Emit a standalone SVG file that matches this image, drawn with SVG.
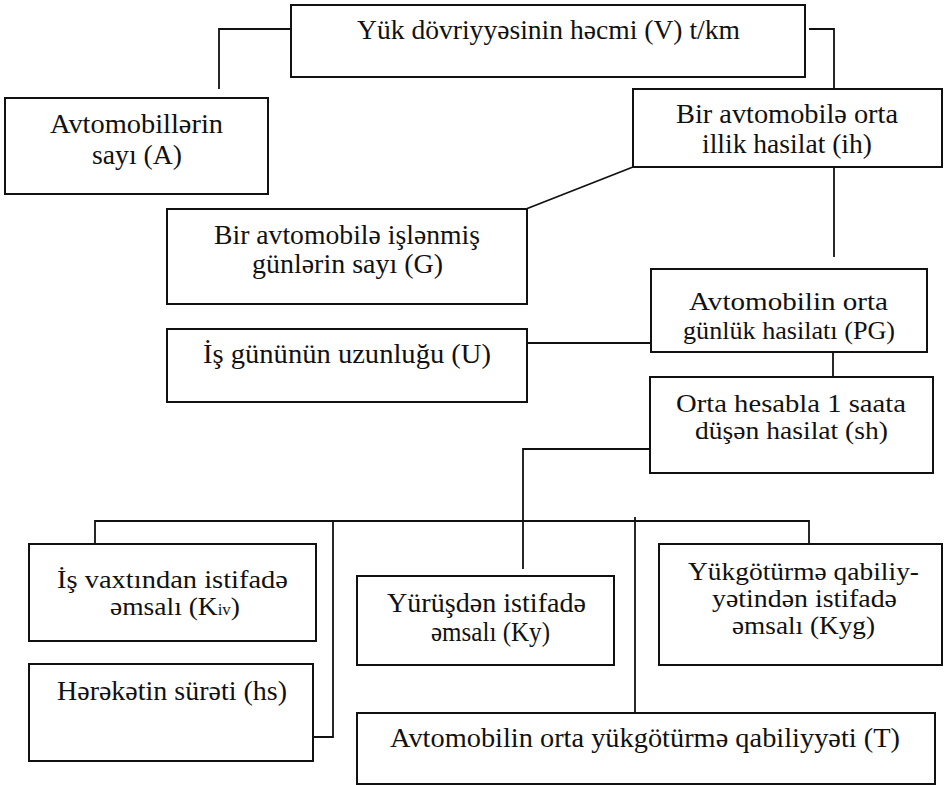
<svg xmlns="http://www.w3.org/2000/svg" width="944" height="785" viewBox="0 0 944 785">
<style>
.box{fill:#fff;stroke:#111;stroke-width:2}
.t{font-family:"Liberation Serif","DejaVu Serif",serif;font-size:28px;fill:#111;text-anchor:middle}
.s{font-size:26px}
.xs{font-size:25px}
.c{fill:none;stroke:#111;stroke-width:1.8}
.sub{font-size:16px}
</style>
<rect width="944" height="785" fill="#fff"/>
<g id="connectors">
<polyline class="c" points="291,29 219,29 219,89"/>
<polyline class="c" points="809,29 834,29 834,89"/>
<line class="c" x1="633" y1="167" x2="526" y2="209"/>
<line class="c" x1="834" y1="166" x2="834" y2="257"/>
<line class="c" x1="523" y1="343" x2="651" y2="343"/>
<line class="c" x1="833" y1="352" x2="833" y2="377"/>
<polyline class="c" points="650,449 523,449 523,569"/>
<polyline class="c" points="95,543 95,521 809,521 809,544"/>
<polyline class="c" points="333,521 333,737 310,737"/>
<line class="c" x1="635" y1="517" x2="635" y2="712"/>
</g>
<g id="n-volume">
<rect class="box" x="291" y="5" width="514" height="72"/>
<text class="t" x="548.5" y="39" textLength="383" lengthAdjust="spacingAndGlyphs">Yük dövriyyəsinin həcmi (V) t/km</text>
</g>
<g id="n-count">
<rect class="box" x="5" y="98" width="263" height="96"/>
<text class="t" x="136.5" y="133" textLength="173" lengthAdjust="spacingAndGlyphs">Avtomobillərin</text>
<text class="t" x="137" y="164" textLength="90" lengthAdjust="spacingAndGlyphs">sayı (A)</text>
</g>
<g id="n-annual">
<rect class="box" x="633" y="89" width="309" height="78"/>
<text class="t" x="787" y="123" textLength="222" lengthAdjust="spacingAndGlyphs">Bir avtomobilə orta</text>
<text class="t" x="787" y="153" textLength="170" lengthAdjust="spacingAndGlyphs">illik hasilat (ih)</text>
</g>
<g id="n-days">
<rect class="box" x="167" y="209" width="360" height="95"/>
<text class="t" x="347" y="244" textLength="266" lengthAdjust="spacingAndGlyphs">Bir avtomobilə işlənmiş</text>
<text class="t" x="347.5" y="273" textLength="191" lengthAdjust="spacingAndGlyphs">günlərin sayı (G)</text>
</g>
<g id="n-hours">
<rect class="box" x="167" y="329" width="360" height="73"/>
<text class="t" x="347" y="363" textLength="288" lengthAdjust="spacingAndGlyphs">İş gününün uzunluğu (U)</text>
</g>
<g id="n-daily">
<rect class="box" x="651" y="269" width="276" height="83"/>
<text class="t xs" x="788.5" y="310" textLength="199" lengthAdjust="spacingAndGlyphs">Avtomobilin orta</text>
<text class="t xs" x="789" y="339" textLength="212" lengthAdjust="spacingAndGlyphs">günlük hasilatı (PG)</text>
</g>
<g id="n-hourly">
<rect class="box" x="650" y="377" width="283" height="96"/>
<text class="t s" x="791" y="412" textLength="230" lengthAdjust="spacingAndGlyphs">Orta hesabla 1 saata</text>
<text class="t s" x="791.5" y="439" textLength="193" lengthAdjust="spacingAndGlyphs">düşən hasilat (sh)</text>
</g>
<g id="n-kiv">
<rect class="box" x="29" y="544" width="287" height="97"/>
<text class="t s" x="172.5" y="588" textLength="231" lengthAdjust="spacingAndGlyphs">İş vaxtından istifadə</text>
<text class="t s" x="175" y="615" textLength="130" lengthAdjust="spacingAndGlyphs">əmsalı (K<tspan class="sub">iv</tspan>)</text>
</g>
<g id="n-speed">
<rect class="box" x="29" y="664" width="284" height="97"/>
<text class="t" x="172" y="700" textLength="230" lengthAdjust="spacingAndGlyphs">Hərəkətin sürəti (hs)</text>
</g>
<g id="n-ky">
<rect class="box" x="357" y="576" width="257" height="89"/>
<text class="t" x="486.5" y="612" textLength="199" lengthAdjust="spacingAndGlyphs">Yürüşdən istifadə</text>
<text class="t" x="490.5" y="641" textLength="119" lengthAdjust="spacingAndGlyphs">əmsalı (Ky)</text>
</g>
<g id="n-kyg">
<rect class="box" x="659" y="544" width="283" height="121"/>
<text class="t s" x="803.5" y="580" textLength="231" lengthAdjust="spacingAndGlyphs">Yükgötürmə qabiliy-</text>
<text class="t s" x="804.5" y="607" textLength="185" lengthAdjust="spacingAndGlyphs">yətindən istifadə</text>
<text class="t s" x="803.5" y="634" textLength="143" lengthAdjust="spacingAndGlyphs">əmsalı (Kyg)</text>
</g>
<g id="n-capacity">
<rect class="box" x="357" y="713" width="578" height="71"/>
<text class="t" x="645" y="747" textLength="510" lengthAdjust="spacingAndGlyphs">Avtomobilin orta yükgötürmə qabiliyyəti (T)</text>
</g>
</svg>
